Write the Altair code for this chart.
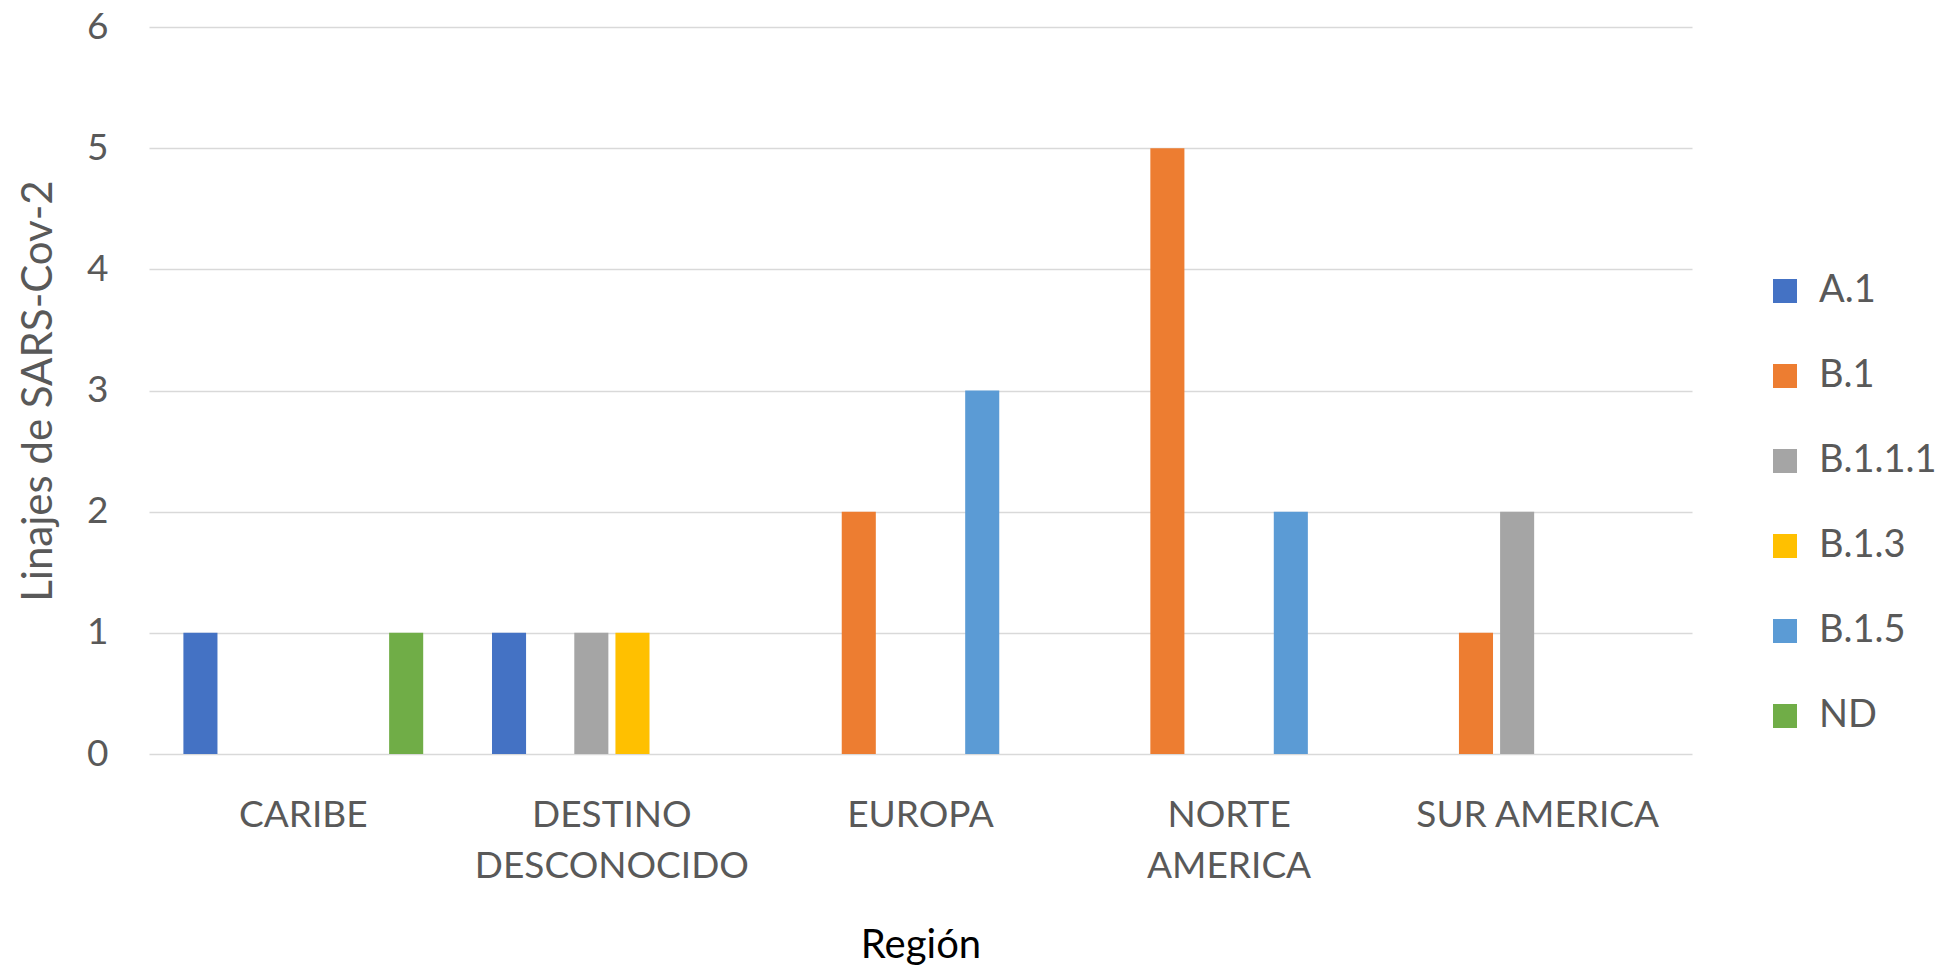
import altair as alt
import pandas as pd

# Lineage counts per region of origin
regions = ["CARIBE", "DESTINO DESCONOCIDO", "EUROPA", "NORTE AMERICA", "SUR AMERICA"]
lineages = ["A.1", "B.1", "B.1.1.1", "B.1.3", "B.1.5", "ND"]
colors = ["#4472C4", "#ED7D31", "#A5A5A5", "#FFC000", "#5B9BD5", "#70AD47"]

caribe = {"A.1": 1, "ND": 1}
destino = {"A.1": 1, "B.1.1.1": 1, "B.1.3": 1}
europa = {"B.1": 2, "B.1.5": 3}
norte = {"B.1": 5, "B.1.5": 2}
sur = {"B.1": 1, "B.1.1.1": 2}

counts = [caribe, destino, europa, norte, sur]

rows = []
for region, series in zip(regions, counts):
    for lin, val in series.items():
        rows.append({"region": region, "linaje": lin, "valor": val})
df = pd.DataFrame(rows)

# two-line category labels
label_expr = (
    "datum.label == 'DESTINO DESCONOCIDO' ? ['DESTINO', 'DESCONOCIDO'] : "
    "datum.label == 'NORTE AMERICA' ? ['NORTE', 'AMERICA'] : datum.label"
)

FONT = "Lato"
GREY = "#595959"

chart = (
    alt.Chart(df)
    .mark_bar()
    .encode(
        x=alt.X(
            "region:N",
            sort=regions,
            scale=alt.Scale(domain=regions, paddingInner=0.2, paddingOuter=0.1),
            axis=alt.Axis(
                title="Región",
                titleFont=FONT,
                titleFontSize=40,
                titleFontWeight="normal",
                titleColor="#000000",
                titleBaseline="alphabetic",
                titleY=203,
                labelFont=FONT,
                labelFontSize=37,
                labelColor=GREY,
                labelAngle=0,
                labelBaseline="alphabetic",
                labelPadding=72,
                labelLineHeight=51,
                labelLimit=0,
                labelOverlap=False,
                labelExpr=label_expr,
                domain=False,
                ticks=False,
                tickSize=0,
                grid=False,
            ),
        ),
        xOffset=alt.XOffset(
            "linaje:N",
            sort=lineages,
            scale=alt.Scale(domain=lineages, paddingInner=0.172, paddingOuter=0.086),
        ),
        y=alt.Y(
            "valor:Q",
            scale=alt.Scale(domain=[0, 6], nice=False),
            axis=alt.Axis(
                title="Linajes de SARS-Cov-2",
                titleFont=FONT,
                titleFontSize=42,
                titleFontWeight="normal",
                titleColor=GREY,
                titleX=-89,
                labelFont=FONT,
                labelFontSize=37,
                labelColor=GREY,
                labelPadding=41,
                values=[0, 1, 2, 3, 4, 5, 6],
                format="d",
                domain=False,
                ticks=False,
                tickSize=0,
                grid=True,
                gridColor="#D9D9D9",
                gridWidth=1.5,
            ),
        ),
        color=alt.Color(
            "linaje:N",
            sort=lineages,
            scale=alt.Scale(domain=lineages, range=colors),
            legend=alt.Legend(
                title=None,
                orient="none",
                legendX=1617,
                legendY=245,
                padding=0,
                symbolType="square",
                symbolSize=576,
                symbolStrokeWidth=0,
                labelFont=FONT,
                labelFontSize=38,
                labelColor=GREY,
                labelOffset=15,
                rowPadding=47,
            ),
        ),
    )
    .properties(
        width=1543,
        height=727,
        autosize=alt.AutoSizeParams(type="none"),
        padding={"left": 149, "top": 27, "right": 252, "bottom": 215},
        background="#FFFFFF",
    )
    .configure_view(stroke=None)
)

chart.save("out.html", embed_options={"renderer": "svg", "actions": False})
